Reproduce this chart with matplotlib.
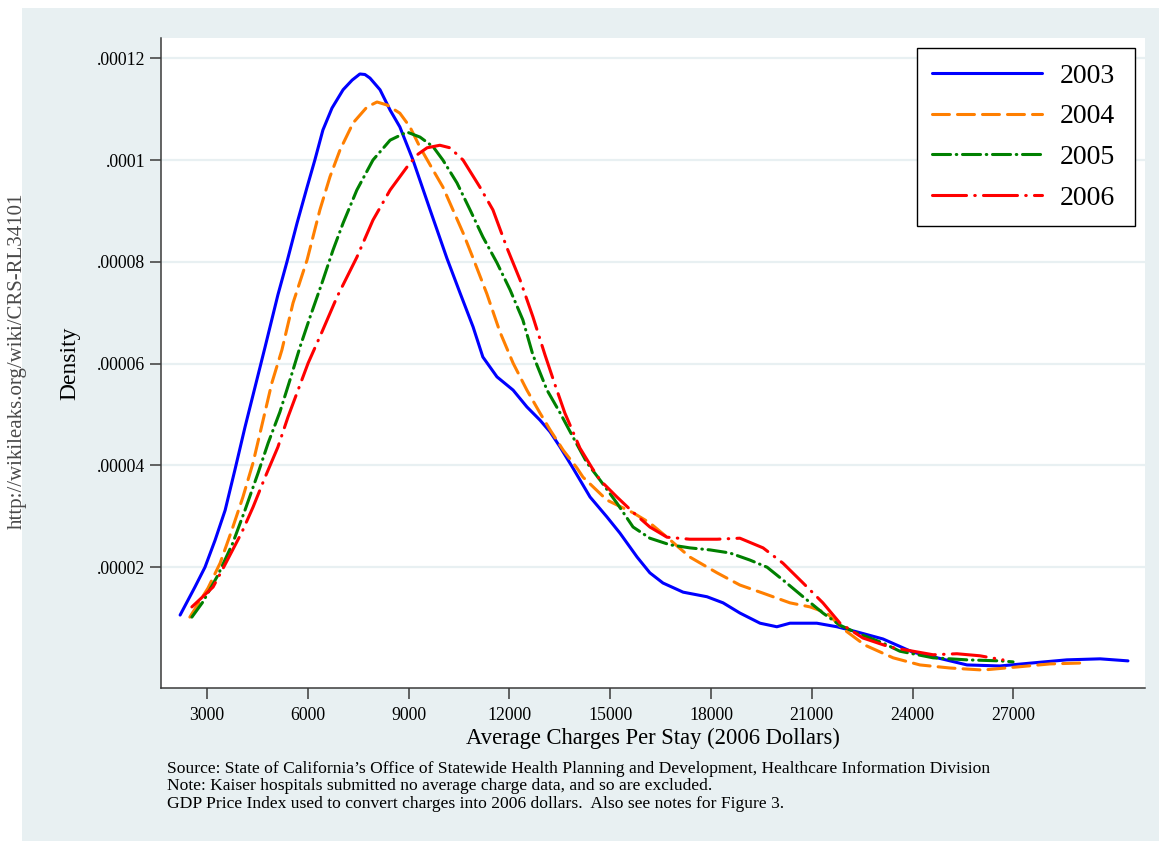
import numpy as np
import matplotlib
matplotlib.use("Agg")
import matplotlib.pyplot as plt
from matplotlib.patches import Rectangle

# values (density in units of 1e-5)
charges_2003 = [2200, 2640, 2940, 3240, 3540, 3830, 4130, 4430, 4730, 5110, 5380, 5680, 5980, 6210, 6450,
                6720, 7050, 7320, 7550, 7700, 7850, 8150, 8450, 8740, 9130, 9640, 10140, 10530, 10920, 11210, 11630,
                12110, 12520, 12910, 13210, 13510, 13890, 14400, 14900, 15290, 15800, 16180, 16570, 17170, 17880, 18360,
                18860, 19460, 19960, 20350, 21150, 21750, 22340, 23120, 24010, 24610, 25620, 26600, 27580, 28590, 29580,
                30410]
density_2003 = [1.06, 1.61, 2.00, 2.53, 3.12, 3.91, 4.75, 5.54, 6.33, 7.35, 8.00, 8.76, 9.47, 10.00, 10.59,
                11.02, 11.38, 11.57, 11.69, 11.68, 11.61, 11.38, 10.98, 10.65, 10.00, 9.02, 8.07, 7.39, 6.72, 6.13, 5.74,
                5.48, 5.15, 4.89, 4.66, 4.36, 3.95, 3.38, 2.99, 2.67, 2.20, 1.89, 1.69, 1.51, 1.42, 1.30,
                1.10, 0.90, 0.83, 0.90, 0.90, 0.83, 0.73, 0.59, 0.33, 0.24, 0.08, 0.06, 0.12, 0.18, 0.20,
                0.16]

charges_2004 = [2490, 3030, 3390, 3740, 4070, 4370, 4670, 4930, 5230, 5560, 5980, 6360, 6660, 6960, 7350,
                7760, 8060, 8360, 8740, 9040, 9340, 9730, 10020, 10320, 10620, 10920, 11330, 11720, 12110, 12520,
                12910, 13210, 13600, 14010, 14190, 14900, 15680, 16180, 16690, 17370, 18180, 18860, 19550, 20350, 20950,
                21450, 21930, 22580, 23420, 24220, 25110, 26090, 27110, 28090, 29130]
density_2004 = [1.02, 1.59, 2.08, 2.73, 3.38, 4.05, 4.89, 5.62, 6.27, 7.19, 8.04, 9.02, 9.67, 10.20, 10.73,
                11.04, 11.14, 11.08, 10.92, 10.65, 10.25, 9.80, 9.47, 9.02, 8.57, 8.07, 7.37, 6.62, 6.01, 5.48,
                5.03, 4.70, 4.30, 3.95, 3.77, 3.32, 3.07, 2.87, 2.59, 2.20, 1.89, 1.65, 1.49, 1.30, 1.22,
                1.10, 0.79, 0.47, 0.22, 0.08, 0.02, -0.02, 0.04, 0.10, 0.12]

charges_2005 = [2550, 2880, 3330, 3770, 4130, 4520, 4820, 5170, 5470, 5770, 6070, 6420, 6750, 7050, 7460,
                7940, 8450, 8950, 9340, 9730, 10020, 10440, 10830, 11210, 11630, 12020, 12400, 12700, 13120, 13510,
                13890, 14310, 14700, 15200, 15680, 16180, 16780, 17370, 17970, 18560, 19160, 19670, 20140, 20740, 21330,
                21840, 22340, 23120, 23620, 24610, 25620, 26600, 26990]
density_2005 = [1.02, 1.32, 1.85, 2.48, 3.12, 3.85, 4.44, 5.05, 5.68, 6.33, 6.92, 7.58, 8.23, 8.76, 9.41,
                10.00, 10.39, 10.55, 10.45, 10.26, 10.00, 9.55, 9.02, 8.49, 7.98, 7.45, 6.86, 6.17, 5.48, 5.03,
                4.56, 4.05, 3.71, 3.26, 2.79, 2.57, 2.44, 2.38, 2.34, 2.28, 2.14, 2.00, 1.75, 1.42, 1.10,
                0.86, 0.71, 0.51, 0.35, 0.22, 0.18, 0.16, 0.14]

charges_2006 = [2550, 3180, 3480, 4040, 4370, 4730, 5110, 5410, 5710, 6010, 6420, 6870, 7460, 7940, 8450,
                8950, 9250, 9550, 9930, 10230, 10620, 11120, 11510, 11930, 12320, 12700, 13060, 13360, 13650, 14100,
                14460, 14700, 15200, 15680, 16180, 16690, 17370, 18180, 18860, 19550, 20140, 20740, 21330, 21840, 22520,
                23330, 24610, 25320, 26000, 26690]
density_2006 = [1.22, 1.61, 1.98, 2.69, 3.18, 3.77, 4.36, 4.95, 5.48, 6.01, 6.62, 7.31, 8.09, 8.82, 9.41,
                9.86, 10.10, 10.24, 10.29, 10.24, 10.00, 9.47, 9.02, 8.27, 7.64, 6.92, 6.17, 5.58, 5.03, 4.34,
                3.95, 3.71, 3.38, 3.08, 2.79, 2.59, 2.55, 2.55, 2.57, 2.38, 2.08, 1.69, 1.30, 0.90, 0.61,
                0.43, 0.28, 0.30, 0.26, 0.18]

years = ["2003", "2004", "2005", "2006"]
x_ticks = [3000, 6000, 9000, 12000, 15000, 18000, 21000, 24000, 27000]
y_ticks = [0.00002, 0.00004, 0.00006, 0.00008, 0.0001, 0.00012]
y_tick_labels = [".00002", ".00004", ".00006", ".00008", ".0001", ".00012"]

notes = ["Source: State of California\u2019s Office of Statewide Health Planning and Development, Healthcare Information Division",
         "Note: Kaiser hospitals submitted no average charge data, and so are excluded.",
         "GDP Price Index used to convert charges into 2006 dollars.  Also see notes for Figure 3."]

plt.rcParams['font.family'] = ['Liberation Serif', 'DejaVu Serif']
plt.rcParams['lines.scale_dashes'] = False

W, H = 1159, 841
bg = '#e8f0f2'
axis_col = '#3a3a3a'

fig = plt.figure(figsize=(W / 100, H / 100), dpi=100, facecolor='white')
# light outer region of the graph
fig.patches.append(Rectangle((22 / W, 0), 1 - 22 / W, 1 - 8 / H, transform=fig.transFigure,
                             facecolor=bg, edgecolor='none', zorder=-5))

ax = fig.add_axes([161 / W, 1 - 688 / H, (1145 - 161) / W, (688 - 38) / H])
ax.set_facecolor('white')
ax.set_zorder(2)

styles = [
    dict(color='#0000ff', linestyle='-'),
    dict(color='#ff7f00', linestyle=(0, (12.2, 5.8))),
    dict(color='#008000', linestyle=(0, (13, 4.1, 0.4, 4.1))),
    dict(color='#ff0000', linestyle=(0, (24.5, 5.9, 0.4, 5.9))),
]
series = [(charges_2003, density_2003), (charges_2004, density_2004),
          (charges_2005, density_2005), (charges_2006, density_2006)]

handles = []
for (xs, ys), st, yr in zip(series, styles, years):
    ln, = ax.plot(xs, np.array(ys) * 1e-5, lw=2.2, label=yr,
                  dash_capstyle='round', solid_capstyle='round', solid_joinstyle='round', **st)
    handles.append(ln)

ax.set_xlim(1631, 30917)
ax.set_ylim(-0.373e-5, 12.397e-5)

ax.set_xticks(x_ticks)
ax.set_xticklabels([str(t) for t in x_ticks])
ax.set_yticks(y_ticks)
ax.set_yticklabels(y_tick_labels)
ax.tick_params(axis='both', direction='out', length=8, width=1.1, color=axis_col,
               labelsize=12.8, labelcolor='black')
ax.tick_params(axis='y', pad=3.5)
ax.tick_params(axis='x', pad=6)

ax.grid(axis='y', color=bg, lw=1.6)
ax.set_axisbelow(True)
for s in ['top', 'right']:
    ax.spines[s].set_visible(False)
for s in ['left', 'bottom']:
    ax.spines[s].set_color(axis_col)
    ax.spines[s].set_linewidth(1.1)

# legend box spans x 917..1135 px, top at y 48 px
leg_x0 = (917 - 161) / 984
leg_w = 218 / 984
leg_top = (688 - 48) / 650
leg = ax.legend(handles=handles, loc='upper left', bbox_to_anchor=(leg_x0, 0.5, leg_w, leg_top - 0.5),
                mode='expand', borderaxespad=0, fontsize=20, handlelength=3.95, handletextpad=0.65,
                labelspacing=0.55, fancybox=False, framealpha=1, edgecolor='black',
                borderpad=0.55)
leg.get_frame().set_linewidth(1.0)

fig.text(653 / W, 1 - 744 / H, "Average Charges Per Stay (2006 Dollars)", fontsize=16.3,
         ha='center', va='baseline')
fig.text(70 / W, 1 - 363 / H, "Density", fontsize=17, rotation=90, ha='center', va='center')

for i, line in enumerate(notes):
    fig.text(167 / W, 1 - (773 + 17.3 * i) / H, line, fontsize=12.6, ha='left', va='baseline')

fig.text(17 / W, 1 - 361 / H, "http://wikileaks.org/wiki/CRS-RL34101", fontsize=15,
         color='#4a4a4a', rotation=90, ha='center', va='center')

fig.savefig('out.png', dpi=100, facecolor=fig.get_facecolor())
